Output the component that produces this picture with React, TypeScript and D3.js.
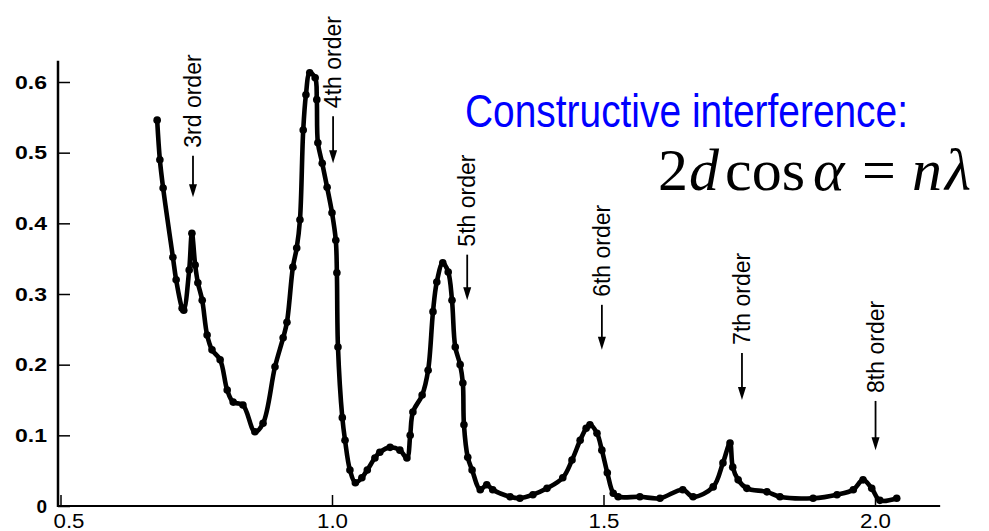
import React, { useEffect, useRef } from 'react';
import * as d3 from 'd3';

// scattering curve
const xs = [
  0.678, 0.683, 0.689, 0.707, 0.713, 0.724, 0.727, 0.737, 0.742, 0.748, 0.753, 0.761, 0.770, 0.779,
  0.794, 0.807, 0.818, 0.836, 0.858, 0.873, 0.895, 0.910, 0.917, 0.928, 0.935, 0.941, 0.947, 0.952,
  0.959, 0.969, 0.972, 0.974, 0.982, 0.991, 1.000, 1.007, 1.009, 1.011, 1.019, 1.024, 1.033, 1.043,
  1.055, 1.065, 1.079, 1.088, 1.107, 1.125, 1.138, 1.144, 1.149, 1.166, 1.177, 1.186, 1.193, 1.204,
  1.214, 1.221, 1.227, 1.236, 1.241, 1.243, 1.250, 1.258, 1.273, 1.285, 1.296, 1.328, 1.346, 1.370,
  1.396, 1.425, 1.442, 1.457, 1.468, 1.475, 1.488, 1.497, 1.507, 1.518, 1.527, 1.567, 1.604, 1.646,
  1.665, 1.702, 1.720, 1.733, 1.738, 1.748, 1.764, 1.801, 1.825, 1.886, 1.930, 1.960, 1.978, 1.994,
  2.009, 2.040,
];
const ys = [
  0.546, 0.490, 0.450, 0.352, 0.320, 0.280, 0.277, 0.334, 0.386, 0.341, 0.316, 0.291, 0.242, 0.221,
  0.207, 0.164, 0.147, 0.143, 0.105, 0.117, 0.197, 0.238, 0.260, 0.338, 0.365, 0.405, 0.532, 0.582,
  0.613, 0.606, 0.575, 0.514, 0.485, 0.451, 0.415, 0.376, 0.330, 0.225, 0.125, 0.093, 0.051, 0.033,
  0.040, 0.051, 0.068, 0.076, 0.083, 0.079, 0.068, 0.100, 0.133, 0.157, 0.192, 0.275, 0.317, 0.344,
  0.331, 0.291, 0.225, 0.200, 0.174, 0.115, 0.069, 0.051, 0.023, 0.030, 0.023, 0.013, 0.011, 0.016,
  0.025, 0.040, 0.065, 0.093, 0.110, 0.115, 0.103, 0.079, 0.047, 0.018, 0.013, 0.013, 0.011, 0.023,
  0.013, 0.027, 0.061, 0.089, 0.055, 0.037, 0.025, 0.020, 0.013, 0.011, 0.016, 0.023, 0.037, 0.025,
  0.008, 0.011,
];

const yTicks = [0, 0.1, 0.2, 0.3, 0.4, 0.5, 0.6];
const xTicks = [0.5, 1.0, 1.5, 2.0];

// diffraction order annotations
const orderLabels = ['3rd order', '4th order', '5th order', '6th order', '7th order', '8th order'];
const orderX = [0.744, 1.002, 1.249, 1.497, 1.755, 2.001];
const orderLabelStart = [0.507, 0.563, 0.367, 0.296, 0.228, 0.160];
const orderArrowTip = [0.437, 0.485, 0.291, 0.221, 0.150, 0.079];

const W = 989;
const H = 531;

export default function App() {
  const svgRef = useRef<SVGSVGElement>(null);

  useEffect(() => {
    const svg = d3.select(svgRef.current);
    svg.selectAll('*').remove();

    const x = d3.scaleLinear().domain([0.5, 2.0]).range([60.5, 875]);
    const y = d3.scaleLinear().domain([0, 0.6]).range([506, 82]);

    const font = "'Liberation Sans', Arial, sans-serif";

    // axes
    const yAxis = svg.append('g')
      .attr('transform', 'translate(58,0)')
      .call(
        d3.axisLeft(y)
          .tickValues(yTicks)
          .tickSizeInner(-12)
          .tickSizeOuter(0)
          .tickPadding(11)
          .tickFormat(d => (+d === 0 ? '0' : d3.format('.1f')(+d)))
      );
    yAxis.select('.domain').remove();
    yAxis.selectAll('line').attr('stroke', '#000').attr('stroke-width', 1.5);
    yAxis.selectAll('text')
      .attr('font-family', font)
      .attr('font-weight', 'bold')
      .attr('font-size', 19)
      .attr('fill', '#000')
      .each(function (d) {
        if (+d !== 0) d3.select(this).attr('textLength', 32).attr('lengthAdjust', 'spacingAndGlyphs');
      });

    svg.append('line')
      .attr('x1', 58).attr('x2', 58)
      .attr('y1', y(0) + 1).attr('y2', y(0.63))
      .attr('stroke', '#000').attr('stroke-width', 2.5);

    const xAxis = svg.append('g')
      .attr('transform', `translate(0,${y(0)})`)
      .call(
        d3.axisBottom(x)
          .tickValues(xTicks)
          .tickSizeInner(-11)
          .tickSizeOuter(0)
          .tickPadding(8)
          .tickFormat(d3.format('.1f'))
      );
    xAxis.select('.domain').remove();
    xAxis.selectAll('line').attr('stroke', '#000').attr('stroke-width', 1.5);
    xAxis.selectAll('text')
      .attr('font-family', font)
      .attr('font-size', 20)
      .attr('fill', '#000')
      .attr('textLength', 31)
      .attr('lengthAdjust', 'spacingAndGlyphs')
      .attr('dx', d => (+d === 0.5 ? 8 : 0));

    svg.append('line')
      .attr('x1', 57).attr('x2', x(2.12))
      .attr('y1', y(0)).attr('y2', y(0))
      .attr('stroke', '#000').attr('stroke-width', 2);

    // curve
    const pts = xs.map((v, i) => [v, ys[i]] as [number, number]);
    const line = d3.line<[number, number]>()
      .x(d => x(d[0]))
      .y(d => y(d[1]))
      .curve(d3.curveCatmullRom.alpha(0.5));

    svg.append('path')
      .datum(pts)
      .attr('d', line)
      .attr('fill', 'none')
      .attr('stroke', '#000')
      .attr('stroke-width', 4.6)
      .attr('stroke-linejoin', 'round')
      .attr('stroke-linecap', 'round');

    svg.append('g')
      .selectAll('circle')
      .data(pts)
      .enter()
      .append('circle')
      .attr('cx', d => x(d[0]))
      .attr('cy', d => y(d[1]))
      .attr('r', 3.8)
      .attr('fill', '#000');

    // order annotations
    const ann = svg.append('g');
    orderLabels.forEach((label, i) => {
      const ax = x(orderX[i]);
      const ty = y(orderLabelStart[i]);
      const tip = y(orderArrowTip[i]);
      ann.append('text')
        .attr('transform', `translate(${ax},${ty}) rotate(-90)`)
        .attr('dy', '0.36em')
        .attr('font-family', font)
        .attr('font-size', 23)
        .attr('fill', '#000')
        .text(label);
      ann.append('line')
        .attr('x1', ax).attr('x2', ax)
        .attr('y1', ty + 8).attr('y2', tip - 6)
        .attr('stroke', '#000').attr('stroke-width', 1.8);
      ann.append('path')
        .attr('d', `M${ax - 4},${tip - 13} L${ax + 4},${tip - 13} L${ax},${tip} Z`)
        .attr('fill', '#000');
    });
  }, []);

  return (
    <>
      <style>{'body{margin:0;background:#fff}'}</style>
      <svg ref={svgRef} width={W} height={H} style={{ display: 'block' }} />
      <svg width={W} height={H} style={{ position: 'absolute', left: 0, top: 0, pointerEvents: 'none' }}>
        <text
          x={465}
          y={127}
          fontFamily="'Liberation Sans', Arial, sans-serif"
          fontSize={46}
          fill="#0000ff"
          textLength={443}
          lengthAdjust="spacingAndGlyphs"
        >
          Constructive interference:
        </text>
        <text y={190} fontFamily="'Liberation Serif', 'Times New Roman', serif" fontSize={60} fill="#000">
          <tspan x={658}>2</tspan>
          <tspan x={689} fontStyle="italic">d</tspan>
          <tspan x={725}>cos</tspan>
          <tspan x={813} fontStyle="italic">α</tspan>
          <tspan x={862}>=</tspan>
          <tspan x={912} fontStyle="italic">n</tspan>
          <tspan x={945} fontStyle="italic">λ</tspan>
        </text>
      </svg>
    </>
  );
}
